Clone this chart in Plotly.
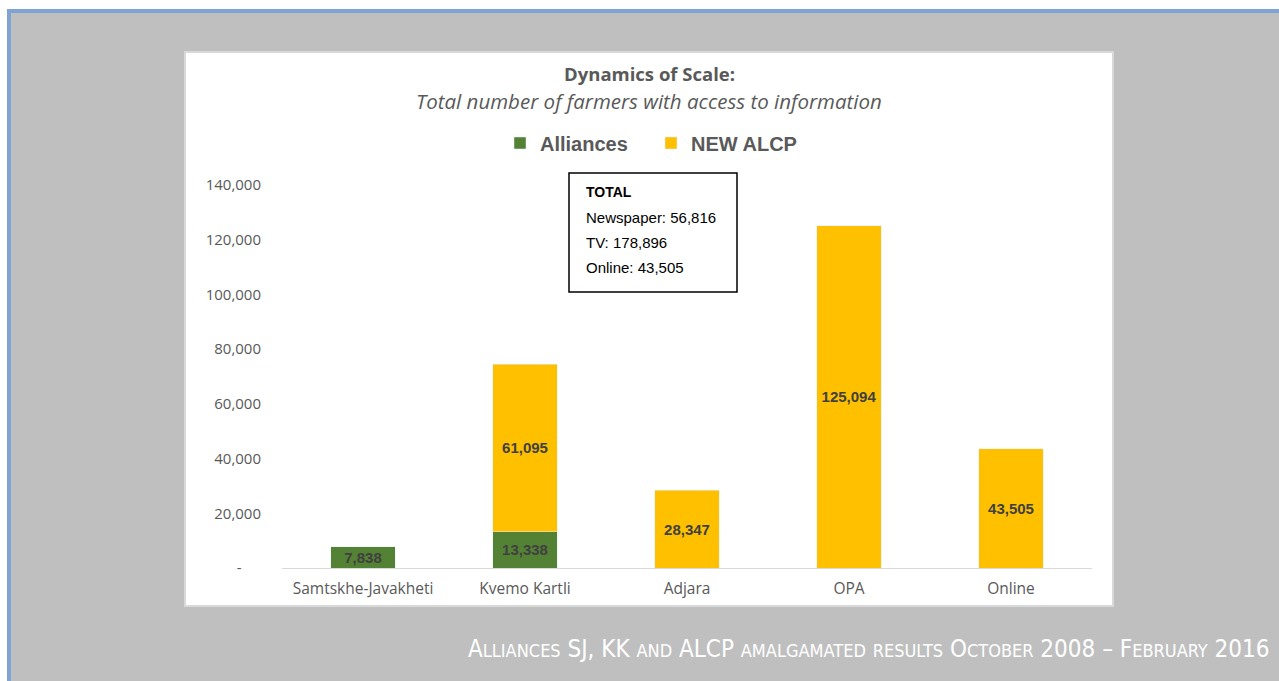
import plotly.graph_objects as go

categories = ["Samtskhe-Javakheti", "Kvemo Kartli", "Adjara", "OPA", "Online"]
alliances = [7838, 13338, None, None, None]
new_alcp = [None, 61095, 28347, 125094, 43505]
y_ticks = [0, 20000, 40000, 60000, 80000, 100000, 120000, 140000]
y_ticktext = ["-\u00a0\u00a0\u00a0\u00a0\u00a0", "20,000", "40,000", "60,000", "80,000", "100,000", "120,000", "140,000"]
total_lines = ["Newspaper: 56,816", "TV: 178,896", "Online: 43,505"]
footer = "Alliances SJ, KK and ALCP amalgamated results October 2008 \u2013 February 2016"

W, H = 1279, 681
def px(x): return x / W
def py(y): return (H - y) / H

GREEN = "#548235"
YELLOW = "#FFC000"
GREY_TXT = "#595959"

def fmt(v):
    return "" if v is None else f"{v:,}"

label_font = dict(family="Liberation Sans, Arial", size=15, color="#404040", weight="bold")

fig = go.Figure()
fig.add_trace(go.Bar(
    name="Alliances", x=categories, y=alliances, marker_color=GREEN,
    text=[fmt(v) for v in alliances], textposition="inside", insidetextanchor="middle",
    textangle=0, constraintext="none", textfont=label_font, width=0.4,
))
fig.add_trace(go.Bar(
    name="NEW ALCP", x=categories, y=new_alcp, marker_color=YELLOW,
    text=[fmt(v) for v in new_alcp], textposition="inside", insidetextanchor="middle",
    textangle=0, constraintext="none", textfont=label_font, width=0.4,
))

# small caps footer
def small_caps(s, small):
    out = []
    for ch in s:
        if ch.islower():
            out.append(f"<span style='font-size:{small}px'>{ch.upper()}</span>")
        else:
            out.append(ch)
    return "".join(out)

shapes = [
    dict(type="rect", xref="paper", yref="paper", x0=px(11), x1=px(W), y0=py(H), y1=py(13),
         fillcolor="#BFBFBF", line_width=0, layer="below"),
    dict(type="rect", xref="paper", yref="paper", x0=px(7), x1=px(W), y0=py(13), y1=py(9),
         fillcolor="#7FA3D3", line_width=0, layer="below"),
    dict(type="rect", xref="paper", yref="paper", x0=px(7), x1=px(11), y0=py(H), y1=py(9),
         fillcolor="#7FA3D3", line_width=0, layer="below"),
    dict(type="rect", xref="paper", yref="paper", x0=px(185), x1=px(1113), y0=py(606), y1=py(52),
         fillcolor="white", line=dict(color="#D9D9D9", width=2), layer="below"),
    dict(type="rect", xref="paper", yref="paper", x0=px(569), x1=px(737), y0=py(292), y1=py(173),
         fillcolor="white", line=dict(color="black", width=1.5), layer="above"),
]

annotations = [
    dict(text="<b>Dynamics of Scale:</b>", xref="paper", yref="paper", x=px(649), y=py(74),
         xanchor="center", yanchor="middle", showarrow=False,
         font=dict(family="Open Sans", size=18.5, color=GREY_TXT)),
    dict(text="<i>Total number of farmers with access to information</i>", xref="paper", yref="paper",
         x=px(649), y=py(101), xanchor="center", yanchor="middle", showarrow=False,
         font=dict(family="Open Sans", size=20.5, color=GREY_TXT)),
    dict(text="<b>TOTAL</b>", xref="paper", yref="paper", x=px(584), y=py(192),
         xanchor="left", yanchor="middle", showarrow=False,
         font=dict(family="Liberation Sans, Arial", size=14, color="black")),
]
for i, line in enumerate(total_lines):
    annotations.append(dict(text=line, xref="paper", yref="paper", x=px(584), y=py(217 + 25 * i),
                            xanchor="left", yanchor="middle", showarrow=False,
                            font=dict(family="Liberation Sans, Arial", size=15, color="black")))
annotations.append(dict(text=small_caps(footer, 18), xref="paper", yref="paper",
                        x=px(1272), y=py(665), xanchor="right", yanchor="bottom", showarrow=False,
                        font=dict(family="DejaVu Sans Condensed, Liberation Sans Narrow, sans-serif",
                                  size=24, color="white")))

fig.update_layout(
    width=W, height=H, margin=dict(l=0, r=0, t=0, b=0, autoexpand=False),
    paper_bgcolor="white", plot_bgcolor="rgba(0,0,0,0)",
    barmode="stack", bargap=0.6,
    shapes=shapes, annotations=annotations,
    showlegend=True,
    legend=dict(orientation="h", x=px(500), xanchor="left", y=py(143), yanchor="middle",
                font=dict(family="Liberation Sans, Arial", size=20, color=GREY_TXT, weight="bold"),
                bgcolor="rgba(0,0,0,0)", itemwidth=30, traceorder="normal",
                entrywidth=106, entrywidthmode="pixels"),
    xaxis=dict(domain=[px(282), px(1092)], showline=True, linecolor="#D9D9D9", linewidth=1,
               ticks="", ticklabelstandoff=6,
               tickfont=dict(family="Open Sans", size=15.5, color=GREY_TXT),
               showgrid=False, fixedrange=True),
    yaxis=dict(domain=[py(568), py(185)], range=[0, 140000], tickvals=y_ticks, ticktext=y_ticktext,
               showgrid=False, zeroline=False, showline=False, ticks="",
               ticklabelstandoff=20,
               tickfont=dict(family="Open Sans", size=15, color=GREY_TXT), fixedrange=True),
)

fig.write_html("out.html")
